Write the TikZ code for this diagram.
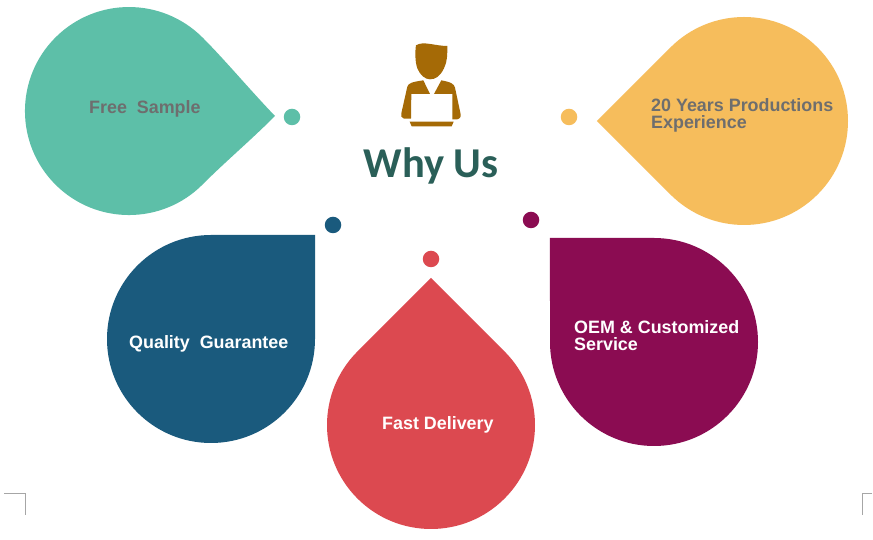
\documentclass[tikz,border=0pt]{standalone}
\usepackage{fontspec}
\setmainfont{Liberation Sans}
\newfontfamily\titlefont{Carlito}
\definecolor{mint}{HTML}{5DBFA8}
\definecolor{sand}{HTML}{F6BD5C}
\definecolor{navy}{HTML}{1A5A7D}
\definecolor{plum}{HTML}{8B0C52}
\definecolor{coral}{HTML}{DC4950}
\definecolor{bronze}{HTML}{A56A06}
\definecolor{pine}{HTML}{2A5F58}
\definecolor{slate}{HTML}{6E6E6E}
\tikzset{
  dot/.style={circle,fill=#1,draw=none,minimum size=16.5pt,inner sep=0pt},
  caption/.style={anchor=west,align=left,font=\fontsize{17.9}{17}\selectfont\bfseries,text=#1,inner sep=0pt},
  corner/.style={draw=black!35,line width=0.8pt}
}
% Teardrop: circle of radius 104 with its straight edges meeting in a point
\newcommand{\teardrop}[4]{% colour, cx, cy, tip direction
  \fill[#1] ([shift={(#4+45:104)}]#2,#3)
     arc[start angle=#4+45,end angle=#4+315,radius=104]
     -- ([shift={(#4:147.1)}]#2,#3) -- cycle;
}
\begin{document}
\begin{tikzpicture}[x=1pt,y=1pt]
\useasboundingbox (0,0) rectangle (873,540);
\fill[white] (0,0) rectangle (873,540);

% Five teardrops (y measured up from the bottom edge)
\fill[mint] (202.5,502.5) arc[start angle=45,end angle=315,radius=104]
   .. controls (225,378) and (250,399) .. (275,424)
   .. controls (250,450) and (225,480) .. (202.5,502.5) -- cycle;
\teardrop{sand}{744}{419}{180}
\teardrop{navy}{211}{201}{45}
\teardrop{plum}{654}{198}{135}
\teardrop{coral}{431}{115}{90}

% Small dots beside the points
\node[dot=mint]  (dotA) at (292,423) {};
\node[dot=sand]  (dotB) at (569,423) {};
\node[dot=navy]  (dotC) at (333,315) {};
\node[dot=plum]  (dotD) at (531,320) {};
\node[dot=coral] (dotE) at (431,281) {};

% Captions
\node[caption=slate] (capA) at (89,431) {Free\ \ Sample};
\node[caption=slate] (capB) at (651,425) {20 Years Productions\\Experience};
\node[caption=white] (capC) at (129,196) {Quality\ \ Guarantee};
\node[caption=white] (capD) at (574,204) {OEM \& Customized\\Service};
\node[caption=white] (capE) at (382,115) {Fast Delivery};

% Title
\node[font=\titlefont\fontsize{42.5}{42.5}\selectfont\bfseries,text=pine,inner sep=0pt] (title) at (431,374) {Why Us};

% Figure at a laptop
\begin{scope}[shift={(340,520)},x=0.3333pt,y=-0.3333pt]
  \fill[bronze] (228,76) .. controls (250,62) and (285,78) .. (322,78)
     .. controls (322,105) and (322,125) .. (312,145)
     .. controls (300,170) and (285,178) .. (270,178)
     .. controls (255,178) and (240,165) .. (232,145)
     .. controls (225,125) and (225,95) .. (228,76) -- cycle;
  \fill[bronze] (250,181) -- (270,222) -- (214,222) -- (213,296) -- (192,296)
     .. controls (184,294) and (182,288) .. (184,280)
     -- (202,200) .. controls (205,190) and (215,186) .. (250,181) -- cycle;
  \fill[bronze] (304,181) -- (282,222) -- (337,222) -- (337,298) -- (352,298)
     .. controls (362,296) and (364,288) .. (361,278)
     -- (345,203) .. controls (342,192) and (335,187) .. (304,181) -- cycle;
  \fill[bronze] (209,305) -- (341,305) -- (335,319) -- (215,319) -- cycle;
\end{scope}

% Page corner marks
\draw[corner] (4,47) -- (25.5,47) -- (25.5,25);
\draw[corner] (872,47) -- (862.5,47) -- (862.5,25);
\end{tikzpicture}
\end{document}
